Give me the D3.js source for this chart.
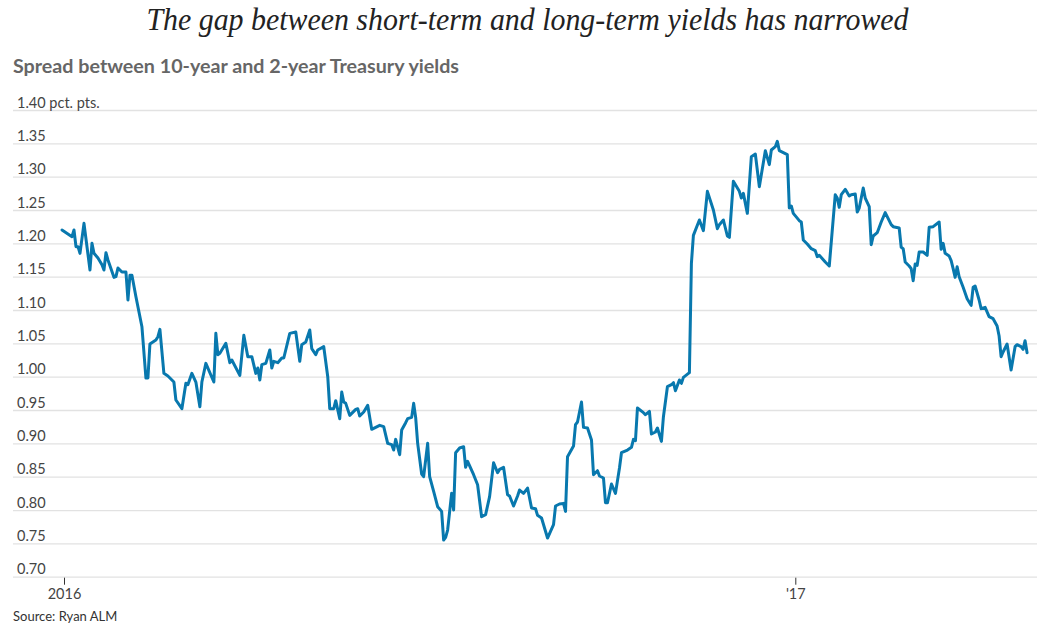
<!DOCTYPE html>
<html>
<head>
<meta charset="utf-8">
<script src="https://cdn.jsdelivr.net/npm/d3@7"></script>
<style>
  body { margin: 0; background: #fff; }
</style>
</head>
<body>
<div id="chart"></div>
<script>
// Spread between 10-year and 2-year Treasury yields, pct. pts.
var dates = [
  "2015-12-31","2016-01-05","2016-01-06","2016-01-07","2016-01-08","2016-01-09","2016-01-11","2016-01-14","2016-01-15","2016-01-16",
  "2016-01-18","2016-01-20","2016-01-21","2016-01-22","2016-01-23","2016-01-26","2016-01-27","2016-01-28","2016-01-30","2016-02-01",
  "2016-02-02","2016-02-03","2016-02-04","2016-02-06","2016-02-09","2016-02-11","2016-02-12","2016-02-13","2016-02-16","2016-02-17",
  "2016-02-18","2016-02-20","2016-02-22","2016-02-25","2016-02-26","2016-02-29","2016-03-02","2016-03-03","2016-03-05","2016-03-07",
  "2016-03-09","2016-03-10","2016-03-12","2016-03-16","2016-03-17","2016-03-18","2016-03-19","2016-03-22","2016-03-24","2016-03-25",
  "2016-03-29","2016-03-31","2016-04-02","2016-04-04","2016-04-06","2016-04-07","2016-04-08","2016-04-09","2016-04-11","2016-04-13",
  "2016-04-14","2016-04-15","2016-04-17","2016-04-19","2016-04-20","2016-04-23","2016-04-26","2016-04-28","2016-04-29","2016-05-01",
  "2016-05-03","2016-05-04","2016-05-06","2016-05-07","2016-05-10",
  "2016-05-12","2016-05-13","2016-05-15","2016-05-16","2016-05-18","2016-05-19","2016-05-20","2016-05-21","2016-05-23","2016-05-26",
  "2016-05-27","2016-05-28","2016-05-30","2016-06-01","2016-06-03","2016-06-05","2016-06-07","2016-06-09","2016-06-11","2016-06-13",
  "2016-06-14","2016-06-15","2016-06-17","2016-06-18","2016-06-20","2016-06-21","2016-06-23","2016-06-24","2016-06-25","2016-06-26",
  "2016-06-28","2016-06-29","2016-07-01","2016-07-02","2016-07-04","2016-07-06","2016-07-08","2016-07-09","2016-07-10","2016-07-11",
  "2016-07-13","2016-07-14","2016-07-15","2016-07-17","2016-07-19","2016-07-20","2016-07-21","2016-07-24","2016-07-26","2016-07-28",
  "2016-07-30","2016-08-01","2016-08-03","2016-08-05","2016-08-06","2016-08-08","2016-08-10","2016-08-11","2016-08-13","2016-08-15",
  "2016-08-16","2016-08-18","2016-08-20","2016-08-22","2016-08-24","2016-08-25","2016-08-27","2016-08-30","2016-09-02","2016-09-03",
  "2016-09-05","2016-09-07","2016-09-08","2016-09-09","2016-09-12","2016-09-13","2016-09-14","2016-09-16","2016-09-17","2016-09-19",
  "2016-09-21","2016-09-22","2016-09-24","2016-09-25",
  "2016-09-27","2016-09-28","2016-09-29","2016-10-01","2016-10-03","2016-10-05","2016-10-06","2016-10-09","2016-10-11","2016-10-12",
  "2016-10-13","2016-10-14","2016-10-17","2016-10-18","2016-10-20","2016-10-21","2016-10-23","2016-10-24","2016-10-26","2016-10-27",
  "2016-10-29","2016-10-31","2016-11-01","2016-11-02","2016-11-04","2016-11-05","2016-11-06","2016-11-09","2016-11-10","2016-11-11",
  "2016-11-14","2016-11-16","2016-11-18","2016-11-21","2016-11-23","2016-11-24","2016-11-26","2016-11-28","2016-11-29","2016-12-01",
  "2016-12-04","2016-12-05","2016-12-06","2016-12-08","2016-12-10","2016-12-12","2016-12-14","2016-12-17","2016-12-19","2016-12-20",
  "2016-12-22","2016-12-23","2016-12-24","2016-12-28","2016-12-29","2016-12-30","2016-12-31",
  "2017-01-03","2017-01-04","2017-01-05","2017-01-07","2017-01-09","2017-01-11","2017-01-12","2017-01-13","2017-01-16","2017-01-18",
  "2017-01-21","2017-01-22","2017-01-23","2017-01-24","2017-01-26","2017-01-28","2017-01-29","2017-01-31","2017-02-01","2017-02-02",
  "2017-02-04","2017-02-05","2017-02-07","2017-02-08","2017-02-09","2017-02-11","2017-02-13","2017-02-15","2017-02-18","2017-02-19",
  "2017-02-22","2017-02-23","2017-02-24","2017-02-25","2017-02-27","2017-02-28","2017-03-01","2017-03-02","2017-03-03","2017-03-04",
  "2017-03-06","2017-03-08","2017-03-09","2017-03-11","2017-03-14","2017-03-15","2017-03-16","2017-03-17","2017-03-19","2017-03-20",
  "2017-03-21","2017-03-22","2017-03-23","2017-03-24","2017-03-26","2017-03-28","2017-03-30","2017-03-31","2017-04-01","2017-04-03",
  "2017-04-04","2017-04-06","2017-04-08","2017-04-10","2017-04-12","2017-04-13","2017-04-14","2017-04-15","2017-04-17","2017-04-19",
  "2017-04-21","2017-04-22","2017-04-24","2017-04-25","2017-04-26","2017-04-27"
];

var spread = [
  1.22,1.21,1.22,1.195,1.195,1.185,1.23,1.16,1.20,1.185,
  1.178,1.168,1.16,1.186,1.175,1.149,1.15,1.163,1.157,1.157,
  1.115,1.152,1.152,1.12,1.075,0.998,0.998,1.049,1.055,1.06,
  1.071,1.005,1.001,0.992,0.965,0.952,0.99,0.988,1.005,0.992,
  0.955,0.992,1.02,0.992,1.065,1.033,1.035,1.05,1.021,1.025,
  1.002,1.062,1.03,1.03,1.005,1.013,0.995,1.018,1.02,1.04,
  1.013,1.023,1.021,1.028,1.028,1.065,1.067,1.023,1.048,1.052,
  1.07,1.042,1.033,1.04,1.045,
  1.00,0.952,0.952,0.964,0.937,0.977,0.962,0.96,0.942,0.951,
  0.952,0.941,0.947,0.957,0.921,0.924,0.927,0.925,0.90,0.898,
  0.89,0.906,0.883,0.92,0.931,0.937,0.939,0.96,0.939,0.90,
  0.854,0.85,0.90,0.85,0.828,0.805,0.798,0.755,0.759,0.77,
  0.825,0.80,0.886,0.893,0.895,0.864,0.873,0.853,0.838,0.79,
  0.793,0.82,0.871,0.856,0.861,0.864,0.823,0.821,0.806,0.821,
  0.83,0.825,0.833,0.803,0.802,0.792,0.788,0.758,0.778,0.806,
  0.809,0.81,0.798,0.88,0.896,0.928,0.932,0.962,0.924,0.923,
  0.905,0.853,0.859,0.851,
  0.848,0.811,0.811,0.839,0.825,0.863,0.886,0.89,0.894,0.906,
  0.904,0.953,0.946,0.943,0.948,0.914,0.917,0.923,0.903,0.94,
  0.985,0.988,0.991,0.979,0.995,0.99,0.999,1.006,1.17,1.212,
  1.235,1.219,1.278,1.25,1.222,1.228,1.235,1.211,1.209,1.293,
  1.278,1.268,1.275,1.245,1.33,1.334,1.285,1.339,1.318,1.34,
  1.345,1.353,1.339,1.333,1.253,1.256,1.245,
  1.234,1.232,1.205,1.199,1.192,1.189,1.18,1.182,1.172,1.166,
  1.273,1.268,1.254,1.273,1.281,1.271,1.273,1.274,1.247,1.253,
  1.283,1.268,1.255,1.198,1.211,1.216,1.232,1.246,1.228,1.225,
  1.223,1.194,1.192,1.172,1.166,1.162,1.144,1.169,1.167,1.187,
  1.187,1.182,1.224,1.225,1.232,1.191,1.20,1.185,1.181,1.174,
  1.162,1.149,1.165,1.15,1.134,1.117,1.107,1.134,1.136,1.115,
  1.102,1.104,1.09,1.087,1.076,1.061,1.03,1.037,1.049,1.01,
  1.045,1.048,1.045,1.041,1.054,1.036
];

var yTicks = [0.70, 0.75, 0.80, 0.85, 0.90, 0.95, 1.00, 1.05, 1.10, 1.15, 1.20, 1.25, 1.30, 1.35, 1.40];
var xTicks = ["2016-01-01", "2017-01-01"];
var xTickLabels = ["2016", "'17"];

var width = 1055, height = 626;
var gridLeft = 13, gridRight = 1037;
var plotTop = 110, plotBottom = 576.7;

var parse = d3.utcParse("%Y-%m-%d");
var data = dates.map(function (d, i) { return { date: parse(d), value: spread[i] }; });

var svg = d3.select("#chart").append("svg")
  .attr("width", width)
  .attr("height", height);

var x = d3.scaleUtc()
  .domain([parse(xTicks[0]), parse(xTicks[1])])
  .range([64, 795.3]);

var y = d3.scaleLinear()
  .domain([0.70, 1.40])
  .range([plotBottom, plotTop]);

// title and subtitle
svg.append("text")
  .attr("x", width / 2)
  .attr("y", 30)
  .attr("text-anchor", "middle")
  .attr("textLength", 762)
  .attr("lengthAdjust", "spacingAndGlyphs")
  .style("font-family", "'Liberation Serif', 'DejaVu Serif', serif")
  .style("font-style", "italic")
  .style("font-size", "32px")
  .style("fill", "#222")
  .text("The gap between short-term and long-term yields has narrowed");

svg.append("text")
  .attr("x", gridLeft)
  .attr("y", 73)
  .attr("textLength", 446)
  .attr("lengthAdjust", "spacingAndGlyphs")
  .style("font-family", "Lato, 'Open Sans', sans-serif")
  .style("font-weight", 700)
  .style("font-size", "18px")
  .style("fill", "#666")
  .text("Spread between 10-year and 2-year Treasury yields");

// gridlines + y labels
var yAxis = svg.append("g")
  .attr("transform", "translate(" + gridLeft + ",0)")
  .call(d3.axisRight(y)
    .tickValues(yTicks)
    .tickSize(gridRight - gridLeft)
    .tickFormat(function (d, i) {
      var s = d3.format(".2f")(d);
      return i === yTicks.length - 1 ? s + " pct. pts." : s;
    }));

yAxis.select(".domain").remove();
yAxis.selectAll(".tick line")
  .attr("stroke", "#e2e2e2")
  .attr("stroke-width", 1.3);
yAxis.selectAll(".tick text")
  .attr("x", 4)
  .attr("y", 0)
  .attr("dy", -3)
  .attr("text-anchor", "start")
  .style("font-family", "Lato, 'Open Sans', sans-serif")
  .style("font-weight", 400)
  .style("font-size", "14.5px")
  .style("fill", "#444");

// x axis
var xAxis = svg.append("g")
  .attr("transform", "translate(0," + (plotBottom + 1) + ")")
  .call(d3.axisBottom(x)
    .tickValues(xTicks.map(parse))
    .tickSize(7)
    .tickFormat(function (d, i) { return xTickLabels[i]; }));

xAxis.select(".domain").remove();
xAxis.selectAll(".tick line").attr("stroke", "#333");
xAxis.selectAll(".tick text")
  .attr("y", 11)
  .style("font-family", "Lato, 'Open Sans', sans-serif")
  .style("font-weight", 400)
  .style("font-size", "14.5px")
  .style("fill", "#444");

// line
var line = d3.line()
  .x(function (d) { return x(d.date); })
  .y(function (d) { return y(d.value); });

svg.append("path")
  .datum(data)
  .attr("d", line)
  .attr("fill", "none")
  .attr("stroke", "#0878ae")
  .attr("stroke-width", 3)
  .attr("stroke-linejoin", "round")
  .attr("stroke-linecap", "round");

// source
svg.append("text")
  .attr("x", gridLeft)
  .attr("y", 621)
  .style("font-family", "Lato, 'Open Sans', sans-serif")
  .style("font-size", "13px")
  .style("fill", "#333")
  .text("Source: Ryan ALM");
</script>
</body>
</html>
